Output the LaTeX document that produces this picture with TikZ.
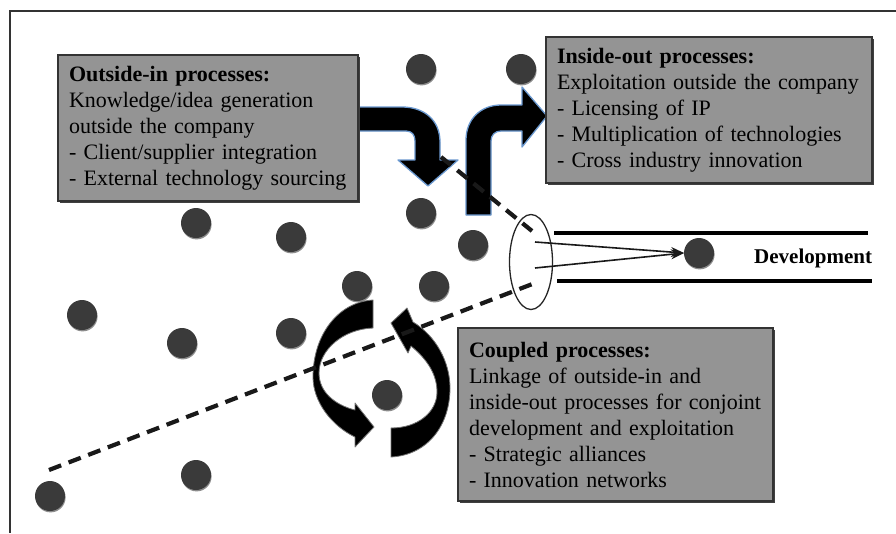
\documentclass[tikz,border=0pt]{standalone}
\usepackage{fontspec}
\setmainfont{Liberation Serif}
\usetikzlibrary{arrows.meta,shapes.geometric,shadows}
\definecolor{boxgray}{HTML}{949494}
\definecolor{dotc}{HTML}{3A3A3A}
\definecolor{arrblue}{HTML}{6A98CF}
\begin{document}
\begin{tikzpicture}[x=1pt,y=-1pt,
  frameline/.style={draw=black!80, line width=2.5pt},
  procbox/.style={draw=black!80, line width=1.2pt, fill=boxgray, anchor=north west,
    inner xsep=11pt, inner ysep=0pt, outer sep=0pt, align=left,
    font=\fontsize{22}{26}\selectfont,
    drop shadow={shadow xshift=1.6pt, shadow yshift=-1.6pt, fill=black!75, opacity=1}},
  dot/.style={circle, fill=dotc, minimum size=30pt, inner sep=0pt, outer sep=0pt,
    drop shadow={shadow xshift=0.6pt, shadow yshift=-1.4pt, fill=black!45, opacity=1}},
  dashline/.style={draw=black!90, line width=4.2pt, dash pattern=on 13pt off 8pt},
  bigarrow/.style={fill=black, draw=arrblue, line width=1.3pt, line join=round},
  cyclearrow/.style={fill=black, draw=black!55, line width=0.8pt, line join=round},
  devline/.style={draw=black, line width=4.2pt},
  convline/.style={draw=black!90, line width=1.6pt, -{Stealth[length=13pt,width=10pt]}},
]
\useasboundingbox (0,0) rectangle (896,533);
\fill[white] (0,0) rectangle (896,533);
% frame
\draw[frameline] (896,11) -- (10,11) -- (10,533);
% dots
\node[dot] (d1) at (421,69) {};
\node[dot] (d2) at (521,69) {};
\node[dot] (d3) at (421,213) {};
\node[dot] (d4) at (196,223) {};
\node[dot] (d5) at (291,237) {};
\node[dot] (d6) at (473,245) {};
\node[dot] (d7) at (357,286) {};
\node[dot] (d8) at (434,286) {};
\node[dot] (d9) at (82,315) {};
\node[dot] (d10) at (182,343) {};
\node[dot] (d11) at (291,333) {};
\node[dot] (d12) at (387,395) {};
\node[dot] (d13) at (196,475) {};
\node[dot] (d14) at (50,496) {};
\node[dot] (dev) at (699,253) {};
% funnel ellipse
\node[draw=black!85, line width=1.3pt, ellipse, minimum width=43pt, minimum height=95pt, inner sep=0pt] (ell) at (531,262) {};
% development channel
\coordinate (p1a) at (554,233); \coordinate (p1b) at (868,233);
\coordinate (p2a) at (557,281); \coordinate (p2b) at (872,281);
\draw[devline] (p1a) -- (p1b);
\draw[devline] (p2a) -- (p2b);
\coordinate (c1) at (535,242); \coordinate (c2) at (535,268);
\draw[convline] (c1) -- (dev.west);
\draw[convline] (c2) -- (dev.west);
\node[anchor=base west, inner sep=0pt, font=\fontsize{21}{24}\selectfont\bfseries] (devlabel) at (754,263) {Development};
% coupled cycle arrows
\draw[cyclearrow] (373,300) .. controls (338,302) and (313,335) .. (313,377)
  .. controls (313,402) and (332,426) .. (355,437) -- (355,447) -- (374,427) -- (355,403) -- (355,410)
  .. controls (335,405) and (319,392) .. (319,373)
  .. controls (319,350) and (343,329) .. (373,328) -- cycle;
\draw[cyclearrow] (391,457) .. controls (428,455) and (450,425) .. (450,388)
  .. controls (450,362) and (436,336) .. (413,322) -- (407,308) -- (391,323) -- (408,353) -- (411,346)
  .. controls (428,360) and (437,375) .. (437,392)
  .. controls (437,412) and (418,428) .. (391,428) -- cycle;
% outside-in arrow (down)
\draw[bigarrow] (358,107) -- (402,107) .. controls (424,107) and (440,120) .. (440,142)
  -- (440,160) -- (458,160) -- (428,186) -- (398,160) -- (415,160) -- (415,141)
  .. controls (415,135) and (412,131) .. (406,131) -- (358,131) -- cycle;
% inside-out arrow (up)
\draw[bigarrow] (466,215) -- (466,140) .. controls (466,119) and (481,105) .. (501,105)
  -- (522,105) -- (522,87) -- (547,116) -- (522,147) -- (522,131) -- (501,131)
  .. controls (495,131) and (491,135) .. (491,141) -- (491,215) -- cycle;
% dashed lines
\coordinate (ua) at (441,157); \coordinate (ub) at (532,231);
\coordinate (la) at (49,470); \coordinate (lb) at (535,283);
\draw[dashline] (ua) -- (ub);
\draw[dashline] (la) -- (lb);
% boxes
\node[procbox, minimum width=300pt, minimum height=146pt, text width=278pt] (outin) at (58,55)
  {\textbf{Outside-in processes:}\\Knowledge/idea generation\\outside the company\\- Client/supplier integration\\- External technology sourcing};
\node[procbox, minimum width=326pt, minimum height=146pt, text width=304pt] (inout) at (546,37)
  {\textbf{Inside-out processes:}\\Exploitation outside the company\\- Licensing of IP\\- Multiplication of technologies\\- Cross industry innovation};
\node[procbox, minimum width=315pt, minimum height=173pt, text width=293pt] (coupled) at (458,328)
  {\textbf{Coupled processes:}\\Linkage of outside-in and\\inside-out processes for conjoint\\development and exploitation\\- Strategic alliances\\- Innovation networks};
\end{tikzpicture}
\end{document}
